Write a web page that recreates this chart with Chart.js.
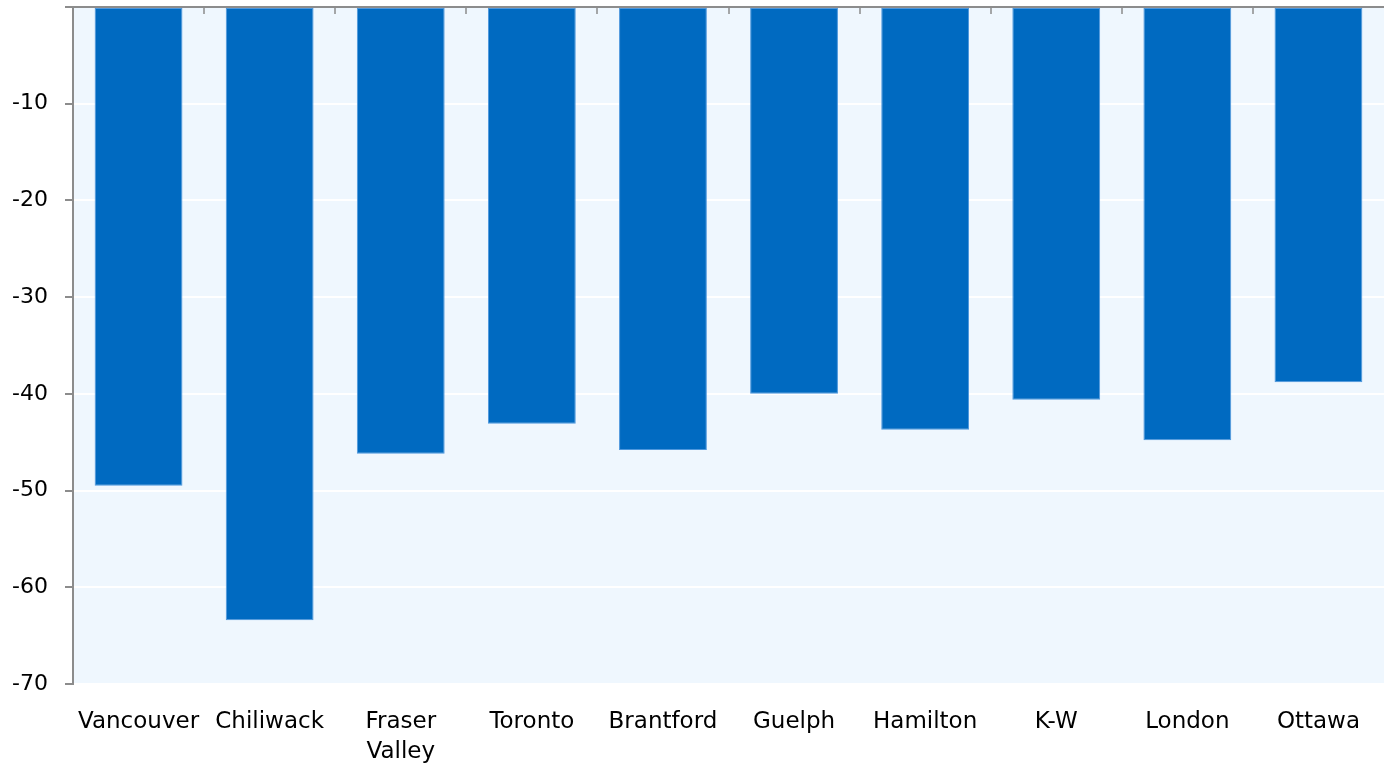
<!DOCTYPE html>
<html>
<head>
<meta charset="utf-8">
<script src="https://cdn.jsdelivr.net/npm/chart.js@4/dist/chart.umd.min.js"></script>
<style>
  html, body { margin: 0; padding: 0; background: #ffffff; }
  #wrap { width: 1384px; height: 764px; position: relative; }
</style>
</head>
<body>
<div id="wrap"><canvas id="chart"></canvas></div>
<script>
// Chart data
const cities = ['Vancouver', 'Chiliwack', ['Fraser', 'Valley'], 'Toronto', 'Brantford',
                'Guelph', 'Hamilton', 'K-W', 'London', 'Ottawa'];
const changePct = [-49.5, -63.4, -46.2, -43.1, -45.8, -40.0, -43.7, -40.6, -44.8, -38.8];
const yTicks = [0, -10, -20, -30, -40, -50, -60, -70];

// Light blue plot background
const plotBackground = {
    id: 'plotBackground',
    beforeDraw(chart) {
        const { ctx, chartArea } = chart;
        ctx.save();
        ctx.fillStyle = '#eff7fe';
        ctx.fillRect(chartArea.left, chartArea.top, chartArea.right - chartArea.left, chartArea.bottom - chartArea.top);
        ctx.restore();
    }
};

// Top axis line with inward ticks at category boundaries
const topAxis = {
    id: 'topAxis',
    afterDatasetsDraw(chart) {
        const { ctx, chartArea } = chart;
        const x = chart.scales.x;
        const step = (chartArea.right - chartArea.left) / cities.length;
        ctx.save();
        ctx.strokeStyle = '#8c8c8c';
        ctx.lineWidth = 2;
        ctx.beginPath();
        ctx.moveTo(chartArea.left, chartArea.top);
        ctx.lineTo(chartArea.right, chartArea.top);
        ctx.stroke();
        ctx.beginPath();
        ctx.lineWidth = 1.5;
        for (let i = 1; i < cities.length; i++) {
            const px = Math.round(x.getPixelForValue(i) - step / 2);
            ctx.moveTo(px, chartArea.top);
            ctx.lineTo(px, chartArea.top + 7);
        }
        ctx.stroke();
        ctx.restore();
    }
};

new Chart(document.getElementById('chart'), {
    type: 'bar',
    data: {
        labels: cities,
        datasets: [{
            data: changePct,
            backgroundColor: '#006ac1',
            borderColor: '#4d97dd',
            borderWidth: 1,
            borderSkipped: false,
            barPercentage: 0.67,
            categoryPercentage: 1.0
        }]
    },
    options: {
        responsive: true,
        maintainAspectRatio: false,
        animation: false,
        layout: { padding: { top: 7, left: 0, right: 0, bottom: 0 } },
        plugins: {
            legend: { display: false },
            tooltip: { enabled: false }
        },
        scales: {
            x: {
                grid: { display: false },
                border: { display: false },
                ticks: {
                    color: '#000000',
                    padding: 15,
                    maxRotation: 0,
                    autoSkip: false,
                    font: { family: 'DejaVu Sans', size: 23, lineHeight: 1.3 }
                },
                afterFit: (scale) => { scale.height = 80; }
            },
            y: {
                min: -70,
                max: 0,
                afterBuildTicks: (scale) => { scale.ticks = yTicks.map(v => ({ value: v })); },
                grid: {
                    color: '#ffffff',
                    lineWidth: 2,
                    tickColor: '#8c8c8c',
                    tickLength: 8
                },
                border: { color: '#8c8c8c', width: 2 },
                ticks: {
                    color: '#000000',
                    padding: 17,
                    font: { family: 'DejaVu Sans', size: 22 },
                    callback: (v) => (v === 0 ? '' : v)
                },
                afterFit: (scale) => {
                    scale.width = 73;
                    scale.paddingTop = 0;
                    scale.paddingBottom = 0;
                }
            }
        }
    },
    plugins: [plotBackground, topAxis]
});
</script>
</body>
</html>
